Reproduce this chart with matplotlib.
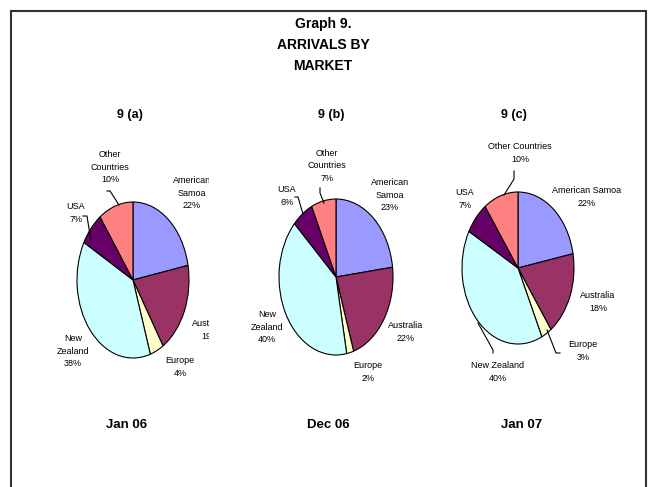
import matplotlib
matplotlib.use("Agg")
import matplotlib.pyplot as plt
from matplotlib.patches import Rectangle

plt.rcParams['font.family'] = ['Liberation Sans Narrow', 'Liberation Sans', 'DejaVu Sans']

# ---- data -------------------------------------------------------------
markets = ["American Samoa", "Australia", "Europe", "New Zealand", "USA", "Other Countries"]
colors = ["#9999FF", "#993366", "#FFFFCC", "#CCFFFF", "#660066", "#FF8080"]
periods = ["Jan 06", "Dec 06", "Jan 07"]
panels = ["9 (a)", "9 (b)", "9 (c)"]
share_jan06 = [22, 19, 4, 38, 7, 10]
share_dec06 = [23, 22, 2, 40, 6, 7]
share_jan07 = [22, 18, 3, 40, 7, 10]
shares = [share_jan06, share_dec06, share_jan07]

# label wording per panel (line breaks differ between the panels)
names_ab = ["American\nSamoa", "Australia", "Europe", "New\nZealand", "USA", "Other\nCountries"]
names_c = ["American Samoa", "Australia", "Europe", "New Zealand", "USA", "Other Countries"]
label_names = [names_ab, names_ab, names_c]

# ---- layout (pixels, origin top-left) ----------------------------------
W, H = 651, 487
fig = plt.figure(figsize=(W / 100, H / 100), dpi=100)

# pie centre and radii (ellipses: taller than wide)
pies = [dict(cx=133, cy=280, rx=56, ry=78, L=20, R=209),
        dict(cx=336, cy=277, rx=57, ry=78, L=225, R=440),
        dict(cx=518, cy=268, rx=56, ry=76, L=440, R=635)]

# label centres per slice
label_pos = [
    [(192, 193), (210, 330), (180, 367), (73, 351), (76, 213), (110, 167)],
    [(390, 195), (406, 332), (368, 372), (267, 327), (287, 196), (327, 166)],
    [(587, 197), (598, 302), (583, 351), (498, 372), (465, 199), (520, 153)],
]
# leader lines
leaders = [
    {4: [(83, 216), (87, 216), (91, 241)], 5: [(107, 191), (110, 191), (119, 205)]},
    {4: [(295, 197), (298, 197), (303, 214)], 5: [(320, 188), (320, 193), (324, 203)]},
    {2: [(560, 353), (556, 353), (547, 330)], 3: [(493, 353), (493, 350), (478, 323)],
     5: [(514, 171), (514, 179), (504, 195)]},
]

T, B = 130, 400


def px_to_data(p, px, py):
    return (px - p['cx']) / p['rx'], (p['cy'] - py) / p['ry']


for i, p in enumerate(pies):
    L, R = p['L'], p['R']
    ax = fig.add_axes([L / W, 1 - B / H, (R - L) / W, (B - T) / H])
    ax.pie(shares[i], colors=colors, startangle=90, counterclock=False,
           radius=1, center=(0, 0),
           wedgeprops=dict(edgecolor="black", linewidth=0.8))
    ax.set_aspect('auto')
    ax.set_xlim((L - p['cx']) / p['rx'], (R - p['cx']) / p['rx'])
    ax.set_ylim((p['cy'] - B) / p['ry'], (p['cy'] - T) / p['ry'])
    ax.axis('off')

    for j, (name, val) in enumerate(zip(label_names[i], shares[i])):
        x, y = px_to_data(p, *label_pos[i][j])
        t = ax.text(x, y, f"{name}\n{val}%", ha="center", va="center",
                    fontsize=6.5, linespacing=1.45, color="black")
        t.set_clip_on(True)
        t.set_clip_box(ax.bbox)

    for j, pts in leaders[i].items():
        xs, ys = zip(*[px_to_data(p, a, b) for a, b in pts])
        ax.plot(xs, ys, color="black", linewidth=0.8)

# ---- titles -------------------------------------------------------------
def ftext(px, py, s, **kw):
    fig.text(px / W, 1 - py / H, s, ha="center", va="center", **kw)


ftext(323, 45, "Graph 9.\nARRIVALS BY\nMARKET", fontsize=10, fontweight="bold",
      linespacing=1.6)
for x, s in zip([130, 331, 514], panels):
    ftext(x, 115, s, fontsize=9, fontweight="bold")
for x, s in zip([127, 328, 522], periods):
    ftext(x, 425, s, fontsize=9.5, fontweight="bold")

# outer frame (open at the bottom edge of the image)
fig.patches.append(Rectangle((10.5 / W, -0.05), (646 - 10.5) / W, 1.05 - 10.5 / H,
                             transform=fig.transFigure, fill=False,
                             edgecolor="#333333", linewidth=1.5))

fig.savefig("out.png", dpi=100)
